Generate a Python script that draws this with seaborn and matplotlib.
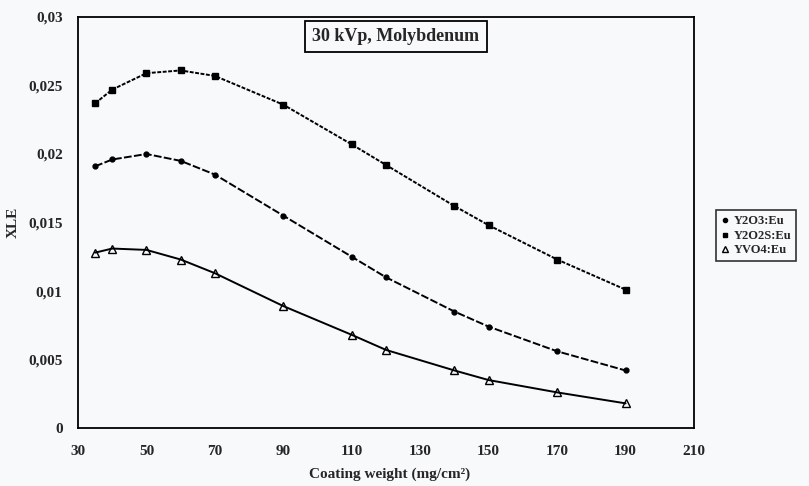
import numpy as np
import pandas as pd
import matplotlib
matplotlib.use("Agg")
import matplotlib.pyplot as plt
import seaborn as sns
from matplotlib.lines import Line2D
from matplotlib.ticker import FuncFormatter

# data
coating = [35, 40, 50, 60, 70, 90, 110, 120, 140, 150, 170, 190]
y2o3 = [0.0191, 0.0196, 0.0200, 0.0195, 0.0185, 0.0155, 0.0125, 0.0110, 0.0085, 0.0074, 0.0056, 0.0042]
y2o2s = [0.0237, 0.0247, 0.0259, 0.0261, 0.0257, 0.0236, 0.0207, 0.0192, 0.0162, 0.0148, 0.0123, 0.0101]
yvo4 = [0.0128, 0.0131, 0.0130, 0.0123, 0.0113, 0.0089, 0.0068, 0.0057, 0.0042, 0.0035, 0.0026, 0.0018]
names = ["Y2O3:Eu", "Y2O2S:Eu", "YVO4:Eu"]
xticks = [30, 50, 70, 90, 110, 130, 150, 170, 190, 210]
yticks = [0, 0.005, 0.01, 0.015, 0.02, 0.025, 0.03]

sns.set_style("white")
plt.rcParams['font.family'] = ['Liberation Serif', 'DejaVu Serif']
plt.rcParams['font.weight'] = 'bold'

bg = "#f8f9fb"
fig = plt.figure(figsize=(8.09, 4.86), dpi=100, facecolor=bg)
ax = fig.add_axes([0.0964, 0.1193, 0.7615, 0.8457], facecolor=bg)

styles = [
    dict(marker="o", markersize=3.5, mfc="black", ls=(0, (4, 1.2))),
    dict(marker="s", markersize=4.5, mfc="black", ls=(0, (2, 0.8))),
    dict(marker="^", markersize=5.5, mfc="none", ls="-"),
]
for vals, st in zip([y2o3, y2o2s, yvo4], styles):
    sns.lineplot(x=coating, y=vals, ax=ax, color="black", lw=1.4,
                 linestyle=st["ls"], marker=st["marker"], markersize=st["markersize"],
                 markerfacecolor=st["mfc"], markeredgecolor="black", markeredgewidth=1.0)

ax.set_xlim(30, 210)
ax.set_ylim(0, 0.03)
ax.set_xticks(xticks)
ax.set_yticks(yticks)
ax.yaxis.set_major_formatter(FuncFormatter(lambda v, p: ("%g" % v).replace(".", ",")))
ax.tick_params(axis="both", direction="out", length=3, width=1, labelsize=11)
ax.tick_params(axis="x", pad=9)
ax.tick_params(axis="y", pad=8)
for s in ax.spines.values():
    s.set_color("black")
    s.set_linewidth(1.3)

ax.set_xlabel("Coating weight (mg/cm²)", fontsize=11, fontweight="bold")
ax.xaxis.set_label_coords(0.505, -0.095)
ax.set_ylabel("XLE", fontsize=11, fontweight="bold")
ax.yaxis.set_label_coords(-0.095, 0.5)

ax.text(0.516, 0.953, "30 kVp, Molybdenum", transform=ax.transAxes, ha="center", va="center",
        fontsize=13, fontweight="bold",
        bbox=dict(boxstyle="square,pad=0.4", fc=bg, ec="black", lw=1.3))

handles = [
    Line2D([], [], ls="none", marker="o", markersize=3, mfc="black", mec="black"),
    Line2D([], [], ls="none", marker="s", markersize=3.5, mfc="black", mec="black"),
    Line2D([], [], ls="none", marker="^", markersize=5, mfc="none", mec="black"),
]
leg = fig.legend(handles, names, loc="upper left", bbox_to_anchor=(0.885, 0.567),
                 frameon=True, fancybox=False, fontsize=9, handlelength=0.6,
                 handletextpad=0.4, borderpad=0.4, labelspacing=0.2, borderaxespad=0)
leg.get_frame().set_edgecolor("black")
leg.get_frame().set_linewidth(1.2)
leg.get_frame().set_facecolor(bg)

fig.savefig("out.png", dpi=100, facecolor=bg)
